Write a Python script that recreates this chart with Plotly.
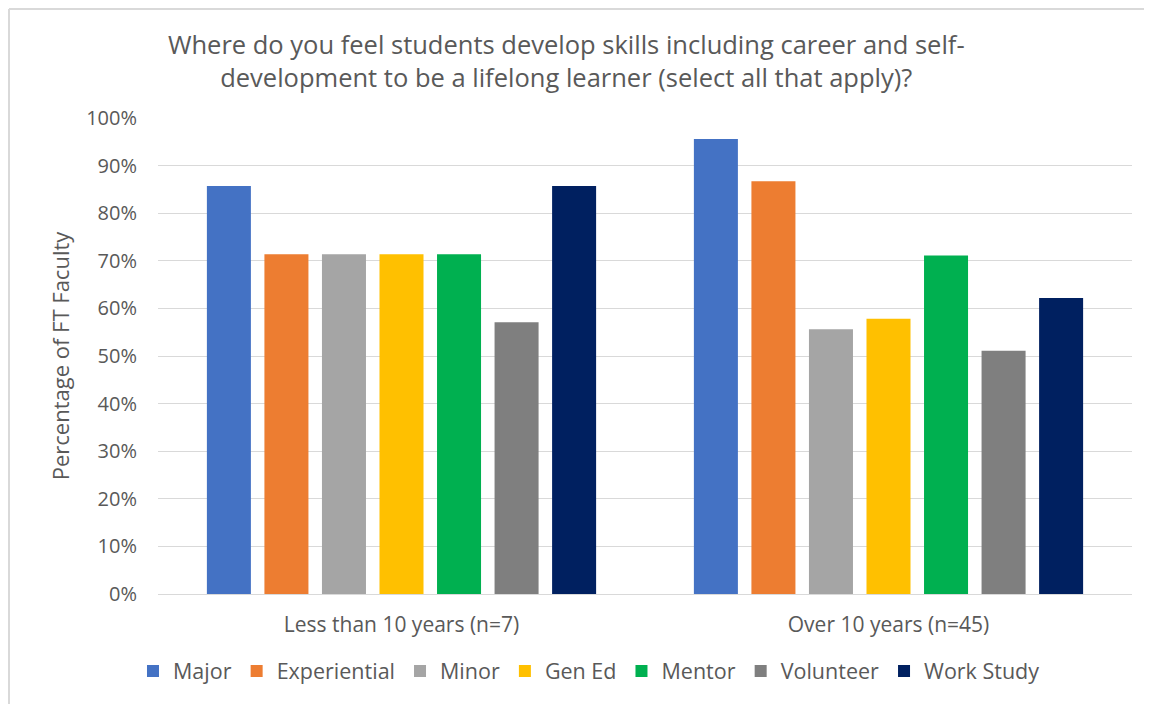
import plotly.graph_objects as go

groups = ["Less than 10 years (n=7)", "Over 10 years (n=45)"]
series = ["Major", "Experiential", "Minor", "Gen Ed", "Mentor", "Volunteer", "Work Study"]
values = {
    "Major": [0.857, 0.956],
    "Experiential": [0.714, 0.867],
    "Minor": [0.714, 0.556],
    "Gen Ed": [0.714, 0.578],
    "Mentor": [0.714, 0.711],
    "Volunteer": [0.571, 0.511],
    "Work Study": [0.857, 0.622],
}
colors = ["#4472C4", "#ED7D31", "#A5A5A5", "#FFC000", "#00B050", "#7F7F7F", "#002060"]

font_family = "Open Sans, Liberation Sans, sans-serif"
gray = "#595959"

W, H = 1144, 696
L, R, T, B = 150, 20, 110, 110
pw = W - L - R
ph = H - T - B

fig = go.Figure()
for s, c in zip(series, colors):
    fig.add_trace(go.Bar(name=s, x=groups, y=values[s], marker=dict(color=c, line=dict(width=0))))

fig.update_layout(
    width=W, height=H,
    barmode="group", bargap=0.173, bargroupgap=0.235,
    plot_bgcolor="white", paper_bgcolor="white",
    margin=dict(l=L, r=R, t=T, b=B),
    font=dict(family=font_family, color=gray, size=20),
    title=dict(
        text="Where do you feel students develop skills including career and self-<br>development to be a lifelong learner (select all that apply)?",
        x=0.488, xanchor="center", xref="container", y=1 - 46 / H, yanchor="top", yref="container",
        font=dict(size=25.5, color=gray, family=font_family),
    ),
    legend=dict(orientation="h", x=0.4425, xanchor="center", y=(586 - 663) / ph, yanchor="middle",
                font=dict(size=21.5, color=gray), itemwidth=30, traceorder="normal"),
    xaxis=dict(showline=True, linecolor="#D9D9D9", linewidth=1, ticks="",
               ticklabelstandoff=12,
               tickfont=dict(size=21, color=gray)),
    yaxis=dict(range=[0, 1.0], dtick=0.1, tickformat=".0%", showgrid=True,
               gridcolor="#D9D9D9", gridwidth=1, zeroline=False, ticks="",
               ticklabelstandoff=20,
               tickfont=dict(size=20, color=gray),
               title=dict(text="Percentage of FT Faculty", font=dict(size=22, color=gray), standoff=10)),
    shapes=[
        dict(type="line", xref="paper", yref="paper", x0=(1 - L) / pw, x1=(1 - L) / pw, y0=-B / ph, y1=1 + (T - 1) / ph,
             line=dict(color="#D9D9D9", width=2)),
        dict(type="line", xref="paper", yref="paper", x0=(1 - L) / pw, x1=1 + R / pw, y0=1 + (T - 1) / ph, y1=1 + (T - 1) / ph,
             line=dict(color="#D9D9D9", width=2)),
    ],
)

fig.write_html("out.html")
